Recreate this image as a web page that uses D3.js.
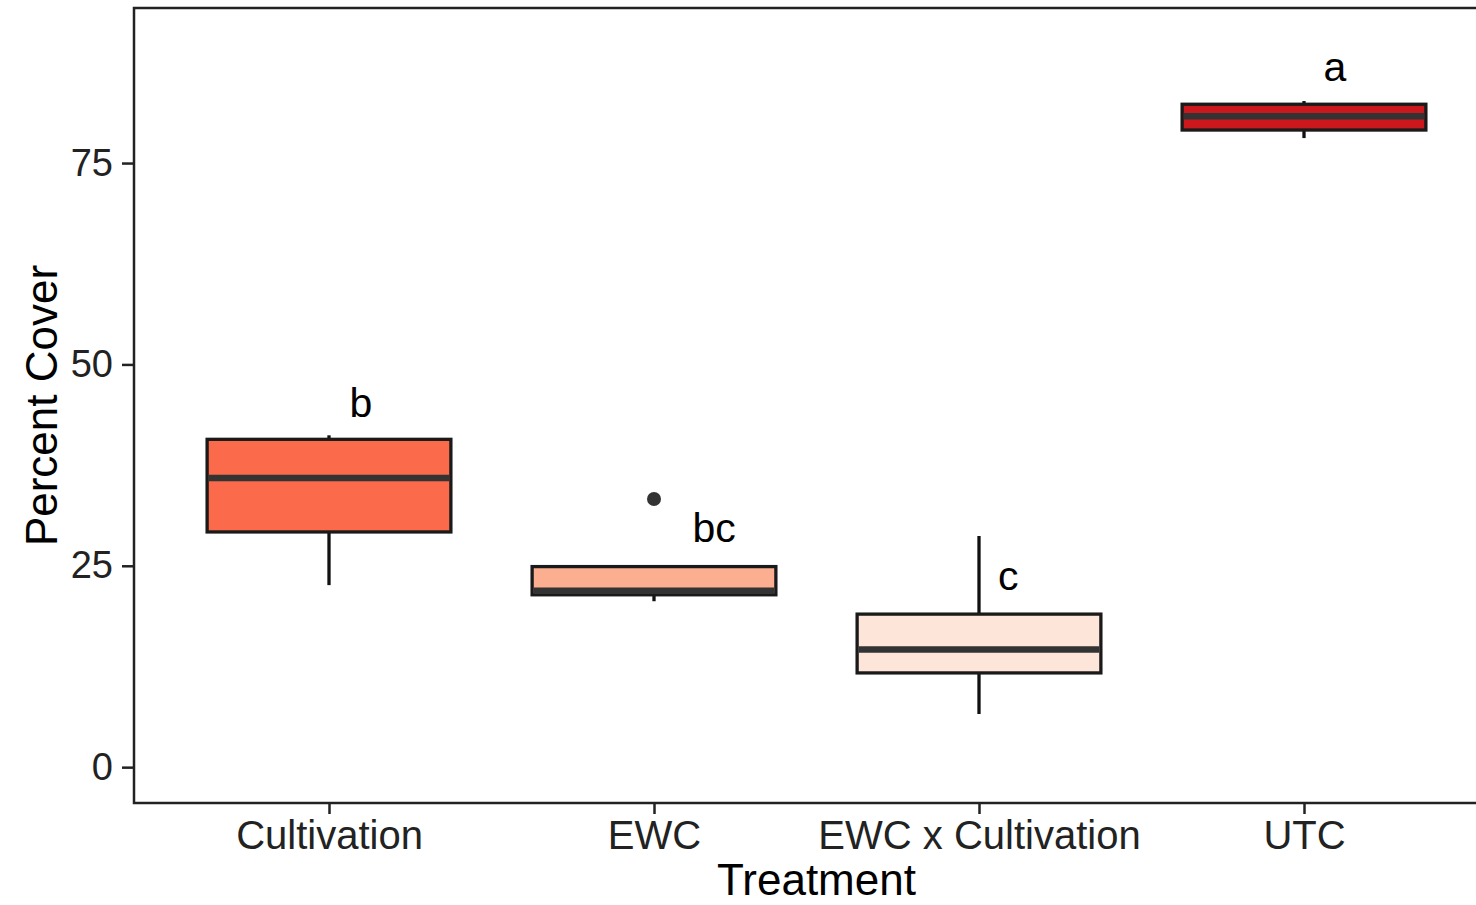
<!DOCTYPE html>
<html lang="en">
<head>
    <meta charset="UTF-8">
    <title>Percent Cover by Treatment</title>
    <script src="https://d3js.org/d3.v7.min.js"></script>
    <style>
        body { margin: 0; background: #fff; }
        svg { display: block; font-family: "Liberation Sans", Arial, sans-serif; }
    </style>
</head>
<body>
    <div id="chart"></div>
    <script>
        // data
        const treatments = ["Cultivation", "EWC", "EWC x Cultivation", "UTC"];
        const lowerWhisker = [22.6, 20.6, 6.6, 78.1];
        const q1 = [29.2, 21.4, 11.7, 79.1];
        const median = [35.9, 21.9, 14.6, 80.8];
        const q3 = [40.7, 24.9, 19.0, 82.3];
        const upperWhisker = [41.2, 24.9, 28.7, 82.7];
        const outliers = [[], [33.3], [], []];
        const fills = ["#FB6A4A", "#FCAE91", "#FEE5D9", "#CB181D"];
        const letters = ["b", "bc", "c", "a"];
        const letterY = [43.5, 27.9, 22.0, 85.2];
        const letterDx = [0.098, 0.185, 0.09, 0.095]; // in category steps
        const yTicks = [0, 25, 50, 75];

        const width = 1476, height = 905;
        const panel = { left: 134, top: 8, right: 1499, bottom: 803 };

        const svg = d3.select("#chart").append("svg")
            .attr("width", width)
            .attr("height", height);

        svg.append("rect").attr("width", width).attr("height", height).attr("fill", "#fff");

        const x = d3.scalePoint()
            .domain(treatments)
            .range([panel.left, panel.right])
            .padding(0.6);

        const y = d3.scaleLinear()
            .domain([-4.45, 94.25])
            .range([panel.bottom, panel.top]);

        const boxW = x.step() * 0.75;

        const boxes = treatments.map((t, i) => ({
            t, lo: lowerWhisker[i], q1: q1[i], med: median[i], q3: q3[i], hi: upperWhisker[i],
            out: outliers[i], fill: fills[i], letter: letters[i], ly: letterY[i], dx: letterDx[i]
        }));

        const g = svg.append("g");

        // whiskers
        g.selectAll("line.whisk-lo")
            .data(boxes)
            .enter().append("line")
            .attr("x1", d => x(d.t)).attr("x2", d => x(d.t))
            .attr("y1", d => y(d.lo)).attr("y2", d => y(d.q1))
            .attr("stroke", "#111").attr("stroke-width", 3.3);

        g.selectAll("line.whisk-hi")
            .data(boxes)
            .enter().append("line")
            .attr("x1", d => x(d.t)).attr("x2", d => x(d.t))
            .attr("y1", d => y(d.hi)).attr("y2", d => y(d.q3))
            .attr("stroke", "#111").attr("stroke-width", 3.3);

        // boxes
        g.selectAll("rect.box")
            .data(boxes)
            .enter().append("rect")
            .attr("x", d => x(d.t) - boxW / 2)
            .attr("y", d => y(d.q3))
            .attr("width", boxW)
            .attr("height", d => y(d.q1) - y(d.q3))
            .attr("fill", d => d.fill)
            .attr("stroke", "#1a1a1a")
            .attr("stroke-width", 3.3);

        // medians
        g.selectAll("line.median")
            .data(boxes)
            .enter().append("line")
            .attr("x1", d => x(d.t) - boxW / 2 + 1.5)
            .attr("x2", d => x(d.t) + boxW / 2 - 1.5)
            .attr("y1", d => y(d.med)).attr("y2", d => y(d.med))
            .attr("stroke", "#333").attr("stroke-width", 6.5);

        // outliers
        g.selectAll("circle")
            .data(boxes.flatMap(d => d.out.map(v => ({ t: d.t, v }))))
            .enter().append("circle")
            .attr("cx", d => x(d.t))
            .attr("cy", d => y(d.v))
            .attr("r", 7)
            .attr("fill", "#333");

        // significance letters
        g.selectAll("text.letter")
            .data(boxes)
            .enter().append("text")
            .attr("x", d => x(d.t) + x.step() * d.dx)
            .attr("y", d => y(d.ly))
            .attr("text-anchor", "middle")
            .attr("font-size", 41)
            .attr("fill", "#000")
            .text(d => d.letter);

        // panel border
        svg.append("rect")
            .attr("x", panel.left)
            .attr("y", panel.top)
            .attr("width", panel.right - panel.left)
            .attr("height", panel.bottom - panel.top)
            .attr("fill", "none")
            .attr("stroke", "#222")
            .attr("stroke-width", 2.5);

        // axes
        const yAxis = svg.append("g")
            .attr("transform", `translate(${panel.left},0)`)
            .call(d3.axisLeft(y).tickValues(yTicks).tickSize(12).tickPadding(9));
        yAxis.select(".domain").remove();
        yAxis.selectAll(".tick line").attr("stroke", "#222").attr("stroke-width", 2.5);
        yAxis.selectAll(".tick text")
            .attr("font-size", 38).attr("fill", "#222")
            .attr("font-family", "Liberation Sans, Arial, sans-serif");

        const xAxis = svg.append("g")
            .attr("transform", `translate(0,${panel.bottom})`)
            .call(d3.axisBottom(x).tickSize(11).tickPadding(7));
        xAxis.select(".domain").remove();
        xAxis.selectAll(".tick line").attr("stroke", "#222").attr("stroke-width", 2.5);
        xAxis.selectAll(".tick text")
            .attr("font-size", 40).attr("fill", "#222")
            .attr("font-family", "Liberation Sans, Arial, sans-serif");

        // axis titles
        svg.append("text")
            .attr("x", (panel.left + panel.right) / 2)
            .attr("y", 895)
            .attr("text-anchor", "middle")
            .attr("font-size", 44)
            .attr("fill", "#000")
            .text("Treatment");

        svg.append("text")
            .attr("transform", `translate(57,${(panel.top + panel.bottom) / 2}) rotate(-90)`)
            .attr("text-anchor", "middle")
            .attr("font-size", 44)
            .attr("fill", "#000")
            .text("Percent Cover");
    </script>
</body>
</html>
